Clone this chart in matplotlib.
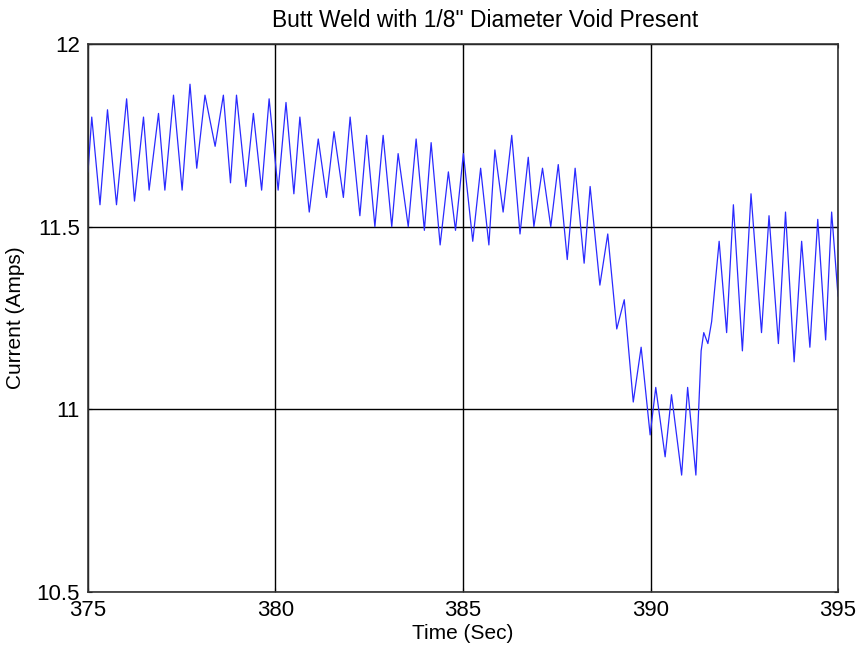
import matplotlib
matplotlib.use("Agg")
import matplotlib.pyplot as plt

# Peaks / troughs (time in sec, current in amps)
time_sec = [
    375.00, 375.10, 375.32, 375.52, 375.76, 376.03, 376.24, 376.48, 376.63,
    376.88, 377.05, 377.28, 377.51, 377.72, 377.90, 378.12, 378.39, 378.61,
    378.80, 378.96, 379.21, 379.41, 379.63, 379.83, 380.07, 380.28, 380.49,
    380.65, 380.90, 381.14, 381.36, 381.56, 381.81, 381.99, 382.25, 382.43,
    382.65, 382.87, 383.10, 383.27, 383.54, 383.75, 383.97, 384.15, 384.39,
    384.61, 384.80, 385.01, 385.26, 385.47, 385.69, 385.85, 386.07, 386.30,
    386.52, 386.74, 386.89, 387.12, 387.34, 387.54, 387.78, 387.99, 388.23,
    388.39, 388.65, 388.86, 389.10, 389.30, 389.54, 389.75, 389.99, 390.14,
    390.39, 390.56, 390.83, 390.99, 391.21, 391.35, 391.42, 391.53, 391.63,
    391.83, 392.03, 392.21, 392.45, 392.68, 392.96, 393.16, 393.41, 393.60,
    393.83, 394.03, 394.25, 394.46, 394.67, 394.83, 395.00,
]
current_amps = [
    11.65, 11.80, 11.56, 11.82, 11.56, 11.85, 11.57, 11.80, 11.60,
    11.81, 11.60, 11.86, 11.60, 11.89, 11.66, 11.86, 11.72, 11.86,
    11.62, 11.86, 11.61, 11.81, 11.60, 11.85, 11.60, 11.84, 11.59,
    11.80, 11.54, 11.74, 11.58, 11.76, 11.58, 11.80, 11.53, 11.75,
    11.50, 11.75, 11.50, 11.70, 11.50, 11.74, 11.49, 11.73, 11.45,
    11.65, 11.49, 11.70, 11.46, 11.66, 11.45, 11.71, 11.54, 11.75,
    11.48, 11.69, 11.50, 11.66, 11.50, 11.67, 11.41, 11.66, 11.40,
    11.61, 11.34, 11.48, 11.22, 11.30, 11.02, 11.17, 10.93, 11.06,
    10.87, 11.04, 10.82, 11.06, 10.82, 11.16, 11.21, 11.18, 11.24,
    11.46, 11.21, 11.56, 11.16, 11.59, 11.21, 11.53, 11.18, 11.54,
    11.13, 11.46, 11.17, 11.52, 11.19, 11.54, 11.31,
]

x_ticks = [375, 380, 385, 390, 395]
y_ticks = [10.5, 11, 11.5, 12]
y_tick_labels = ["10.5", "11", "11.5", "12"]

plt.rcParams['font.family'] = ['Liberation Sans', 'DejaVu Sans']

fig = plt.figure(figsize=(8.61, 6.56), dpi=100)
ax = fig.add_axes([0.1022, 0.0976, 0.8711, 0.8353])

ax.plot(time_sec, current_amps, color='#2a2aff', linewidth=0.9)

ax.set_xlim(375, 395)
ax.set_ylim(10.5, 12)
ax.set_xticks(x_ticks)
ax.set_xticklabels([str(t) for t in x_ticks])
ax.set_yticks(y_ticks)
ax.set_yticklabels(y_tick_labels)

ax.grid(True, color='black', linewidth=1.0, linestyle='-')
ax.tick_params(direction='in', length=3, top=True, right=True,
               labelsize=16, pad=6)
for sp in ax.spines.values():
    sp.set_linewidth(1.2)
    sp.set_color('#333333')

# title sits a little right of centre in the original
ax.set_title('Butt Weld with 1/8" Diameter Void Present', fontsize=16.4,
             pad=12, x=0.529)
ax.set_xlabel('Time (Sec)', fontsize=15, labelpad=2)
ax.set_ylabel('Current (Amps)', fontsize=15, labelpad=8)

fig.savefig('out.png', dpi=100)
